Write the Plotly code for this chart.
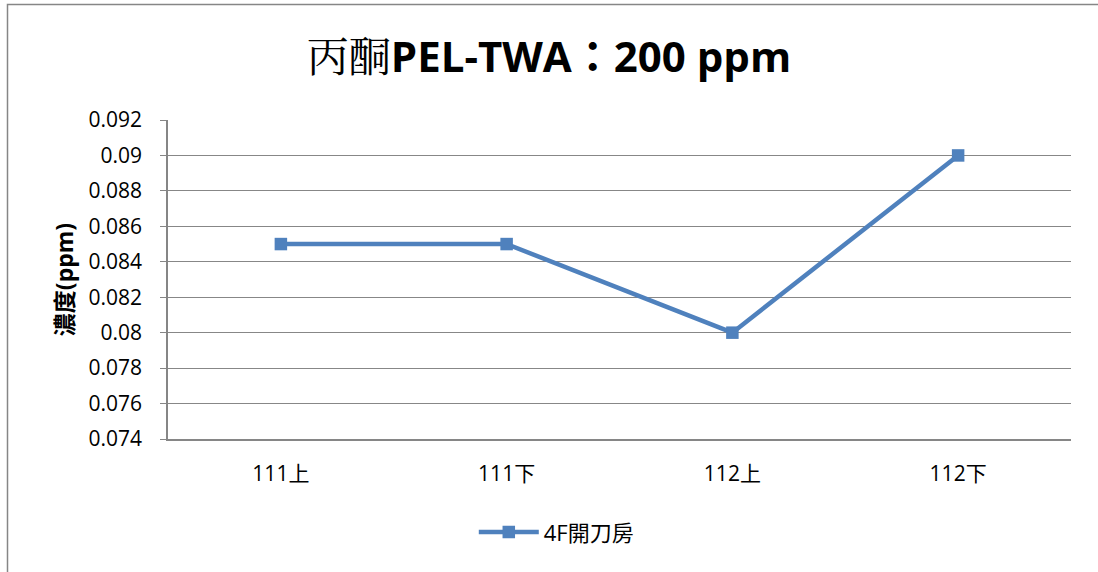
import plotly.graph_objects as go

categories = ["111上", "111下", "112上", "112下"]
values = [0.085, 0.085, 0.08, 0.09]
series_name = "4F開刀房"
y_ticks = [0.074, 0.076, 0.078, 0.08, 0.082, 0.084, 0.086, 0.088, 0.09, 0.092]
y_tick_labels = ["0.074", "0.076", "0.078", "0.08", "0.082", "0.084", "0.086", "0.088", "0.09", "0.092"]

FONT = "Open Sans, Noto Sans CJK TC, sans-serif"
fig = go.Figure()
fig.add_trace(go.Scatter(
    x=categories, y=values, name=series_name, mode="lines+markers",
    line=dict(color="#4F81BD", width=4.5),
    marker=dict(symbol="square", size=12.5, color="#4F81BD"),
))

fig.update_layout(
    width=1098, height=572,
    margin=dict(l=168, r=27, t=120, b=133),
    paper_bgcolor="white", plot_bgcolor="white",
    font=dict(family=FONT, size=21, color="black"),
    title=dict(
        text="<span style='font-family:Noto Serif CJK TC, Noto Sans CJK TC;font-weight:normal'>丙酮</span><b>PEL-TWA：200 ppm</b>",
        x=0.5, xref="container", xanchor="center",
        y=1 - 57 / 572, yref="container", yanchor="middle",
        font=dict(size=42, family=FONT, color="black"),
    ),
    showlegend=True,
    legend=dict(orientation="h", x=0.43, xanchor="center", y=-0.292, yanchor="middle",
                font=dict(size=22), itemwidth=60),
)
fig.update_xaxes(
    type="category", range=[-0.5, 3.5], showgrid=False,
    showline=True, linecolor="#868686", linewidth=1.5, ticks="",
    tickfont=dict(size=21), ticklabelstandoff=15,
)
fig.update_yaxes(
    range=[0.074, 0.092], tickvals=y_ticks, ticktext=y_tick_labels,
    showgrid=True, gridcolor="#878787", gridwidth=1.3,
    showline=True, linecolor="#868686", linewidth=1.5,
    ticks="outside", ticklen=6, tickcolor="#868686",
    tickfont=dict(size=21), zeroline=False, ticklabelstandoff=14,
    title=dict(text="<b>濃度(ppm)</b>", font=dict(size=23), standoff=8),
)

# outer chart border
fig.add_shape(type="rect", xref="paper", yref="paper",
              x0=(7.5 - 168) / 903, x1=(1110 - 168) / 903,
              y0=(439 - 590) / 319, y1=(439 - 4.5) / 319,
              line=dict(color="#868686", width=1.5), fillcolor="rgba(0,0,0,0)", layer="below")

fig.write_html("out.html", config={"displayModeBar": False},
               post_script="document.body.style.margin='0';document.body.style.overflow='hidden';")
